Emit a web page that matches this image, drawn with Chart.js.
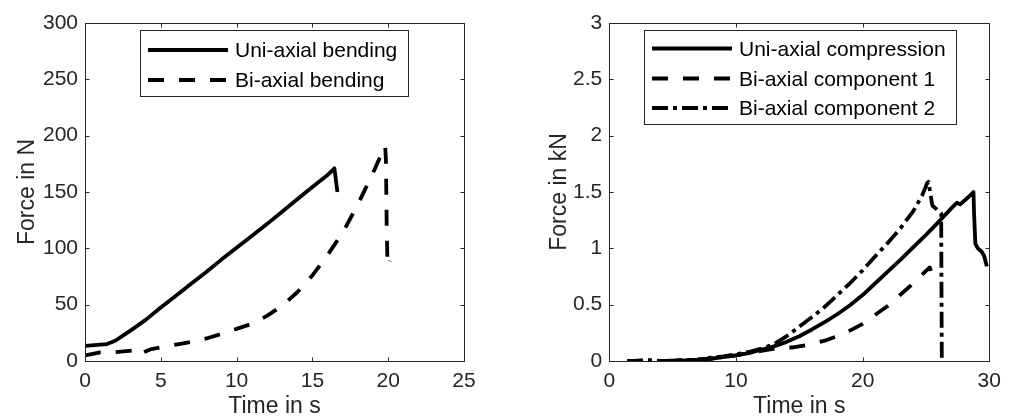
<!DOCTYPE html>
<html>
<head>
<meta charset="utf-8">
<script src="https://cdn.jsdelivr.net/npm/chart.js@4.4.1/dist/chart.umd.min.js"></script>
<style>
  html, body { margin: 0; padding: 0; background: #fff; overflow: hidden; }
  canvas { position: absolute; top: 0; }
  #left { left: 0; }
  #right { left: 505px; }
</style>
</head>
<body>
<canvas id="left" width="505" height="419"></canvas>
<canvas id="right" width="506" height="419"></canvas>
<script>
// left panel: bending
const bendTicksX = [0, 5, 10, 15, 20, 25];
const bendTicksY = [0, 50, 100, 150, 200, 250, 300];
const uniBendT = [0, 1.45, 2, 2.5, 3, 4, 5, 6, 7, 8, 9, 10, 11, 12, 13, 14, 15, 16, 16.45, 16.65];
const uniBendF = [13.5, 15, 18, 22.5, 27, 36.5, 47.5, 58, 68.5, 79, 90, 100.5, 111, 121.5, 132.5, 143.5, 154.5, 165, 171, 150];
const biBendT = [0, 1, 2, 3.2, 3.45, 4.3, 5.2, 6.3, 7, 8, 9, 10, 11, 12, 13, 14, 15, 16, 17, 18, 19, 19.8, 19.85, 19.9, 19.95, 20.05, 20.1];
const biBendF = [5, 7.7, 7.9, 9.3, 5.5, 10.3, 12.7, 15.2, 17, 20, 24, 28.5, 33, 40, 49, 61, 76, 94, 114, 139, 167, 191, 178, 120, 88, 84, 89];

// right panel: compression
const compTicksX = [0, 10, 20, 30];
const compTicksY = [0, 0.5, 1, 1.5, 2, 2.5, 3];
const uniCompT = [5, 7, 8, 9, 10, 11, 12, 13, 14, 15, 16, 17, 18, 19, 20, 21, 22, 23, 24, 25, 26, 26.5, 27, 27.45, 27.7, 28, 28.4, 28.75, 28.8, 28.9, 29.1, 29.4, 29.6, 29.8];
const uniCompF = [0, 0.01, 0.02, 0.035, 0.05, 0.07, 0.1, 0.13, 0.17, 0.22, 0.28, 0.345, 0.415, 0.495, 0.585, 0.69, 0.795, 0.9, 1.01, 1.12, 1.235, 1.295, 1.355, 1.405, 1.39, 1.42, 1.46, 1.5, 1.3, 1.04, 1.0, 0.97, 0.93, 0.84];
const biComp1T = [4.5, 6, 8, 10, 12, 13.5, 14.5, 15.5, 17, 18, 19, 20, 21, 22, 23, 24, 25, 25.3, 25.4];
const biComp1F = [0, 0.01, 0.02, 0.05, 0.09, 0.12, 0.12, 0.14, 0.18, 0.22, 0.27, 0.33, 0.41, 0.49, 0.59, 0.69, 0.8, 0.83, 0.8];
const biComp2T = [1.4, 2, 3, 4, 5, 6, 7, 8, 9, 10, 11, 12, 13, 14, 15, 16, 17, 18, 19, 20, 21, 22, 23, 24, 24.7, 25.1, 25.2, 25.5, 25.9, 26.2, 26.25];
const biComp2F = [0, 0, 0.01, 0, 0, 0.01, 0.01, 0.03, 0.04, 0.06, 0.08, 0.11, 0.15, 0.22, 0.305, 0.39, 0.48, 0.585, 0.69, 0.805, 0.93, 1.05, 1.18, 1.33, 1.47, 1.58, 1.59, 1.38, 1.34, 1.31, 0];

const INK = '#262626';
const FONT = '"Liberation Sans", Arial, Helvetica, sans-serif';
const DASH = [16, 15];
const DASHDOT = [16, 5, 4, 5];

function pts(xs, ys) {
  return xs.map((x, i) => ({ x: x, y: ys[i] }));
}

function series(label, xs, ys, dash) {
  return {
    label: label,
    data: pts(xs, ys),
    borderColor: '#000',
    borderWidth: 3.8,
    borderDash: dash,
    borderCapStyle: 'butt',
    borderJoinStyle: 'round',
    pointRadius: 0,
    tension: 0,
    fill: false
  };
}

// MATLAB-like box, inward ticks and framed legend
const matlabAxes = {
  id: 'matlabAxes',
  afterDatasetsDraw(chart, args, opts) {
    const ctx = chart.ctx;
    const a = chart.chartArea;
    const l = Math.round(a.left) + 0.5, r = Math.round(a.right) + 0.5;
    const t = Math.round(a.top) + 0.5, b = Math.round(a.bottom) + 0.5;
    ctx.save();
    ctx.strokeStyle = INK;
    ctx.lineWidth = 1;
    ctx.setLineDash([]);
    ctx.strokeRect(l, t, r - l, b - t);
    ctx.beginPath();
    chart.scales.x.ticks.forEach(tk => {
      const px = Math.round(chart.scales.x.getPixelForValue(tk.value)) + 0.5;
      ctx.moveTo(px, b); ctx.lineTo(px, b - 4);
      ctx.moveTo(px, t); ctx.lineTo(px, t + 4);
    });
    chart.scales.y.ticks.forEach(tk => {
      const py = Math.round(chart.scales.y.getPixelForValue(tk.value)) + 0.5;
      ctx.moveTo(l, py); ctx.lineTo(l + 4, py);
      ctx.moveTo(r, py); ctx.lineTo(r - 4, py);
    });
    ctx.stroke();

    // legend
    const lg = opts.legend;
    ctx.fillStyle = '#fff';
    ctx.fillRect(lg.x, lg.y, lg.w, lg.h);
    ctx.strokeRect(lg.x + 0.5, lg.y + 0.5, lg.w, lg.h);
    ctx.font = '21px ' + FONT;
    ctx.textBaseline = 'alphabetic';
    ctx.textAlign = 'left';
    chart.data.datasets.forEach((ds, i) => {
      const ry = lg.rows[i];
      ctx.beginPath();
      ctx.strokeStyle = '#000';
      ctx.lineWidth = 3.8;
      ctx.lineCap = 'butt';
      ctx.setLineDash(ds.borderDash || []);
      ctx.moveTo(lg.x + 8, ry);
      ctx.lineTo(lg.x + 88, ry);
      ctx.stroke();
      ctx.setLineDash([]);
      ctx.fillStyle = '#000';
      ctx.fillText(ds.label, lg.x + 95, ry + 7.3);
    });
    ctx.restore();
  }
};

function makeChart(id, datasets, cfg) {
  return new Chart(document.getElementById(id), {
    type: 'line',
    data: { datasets: datasets },
    plugins: [matlabAxes],
    options: {
      responsive: false,
      animation: false,
      devicePixelRatio: 1,
      layout: { padding: { left: 0, right: cfg.padRight, top: 23, bottom: 0 } },
      plugins: {
        legend: { display: false },
        tooltip: { enabled: false },
        matlabAxes: { legend: cfg.legend }
      },
      scales: {
        x: {
          type: 'linear',
          min: cfg.ticksX[0],
          max: cfg.ticksX[cfg.ticksX.length - 1],
          afterBuildTicks: s => { s.ticks = cfg.ticksX.map(v => ({ value: v })); },
          afterFit: s => { s.height = 58; },
          grid: { display: false, drawTicks: false },
          border: { display: false },
          ticks: { color: INK, font: { family: FONT, size: 21 }, padding: 8, maxRotation: 0, callback: v => String(v) },
          title: { display: true, text: 'Time in s', color: INK, font: { family: FONT, size: 23, lineHeight: 1.1 }, padding: 0 }
        },
        y: {
          min: cfg.ticksY[0],
          max: cfg.ticksY[cfg.ticksY.length - 1],
          afterBuildTicks: s => { s.ticks = cfg.ticksY.map(v => ({ value: v })); },
          afterFit: s => { s.width = cfg.yWidth; },
          grid: { display: false, drawTicks: false },
          border: { display: false },
          ticks: { color: INK, font: { family: FONT, size: 21 }, padding: 7, callback: v => String(v) },
          title: { display: true, text: cfg.yTitle, color: INK, font: { family: FONT, size: 23, lineHeight: 1.2 }, padding: { top: cfg.yTitlePad } }
        }
      }
    }
  });
}

makeChart('left', [
  series('Uni-axial bending', uniBendT, uniBendF, []),
  series('Bi-axial bending', biBendT, biBendF, DASH)
], {
  ticksX: bendTicksX, ticksY: bendTicksY, padRight: 41, yWidth: 85,
  yTitle: 'Force in N', yTitlePad: 14,
  legend: { x: 140, y: 30, w: 268, h: 66, rows: [50, 80] }
});

makeChart('right', [
  series('Uni-axial compression', uniCompT, uniCompF, []),
  series('Bi-axial component 1', biComp1T, biComp1F, DASH),
  series('Bi-axial component 2', biComp2T, biComp2F, DASHDOT)
], {
  ticksX: compTicksX, ticksY: compTicksY, padRight: 21.7, yWidth: 104.3,
  yTitle: 'Force in kN', yTitlePad: 41.2,
  legend: { x: 139, y: 30, w: 312, h: 94, rows: [48.5, 78.5, 108] }
});
</script>
</body>
</html>
